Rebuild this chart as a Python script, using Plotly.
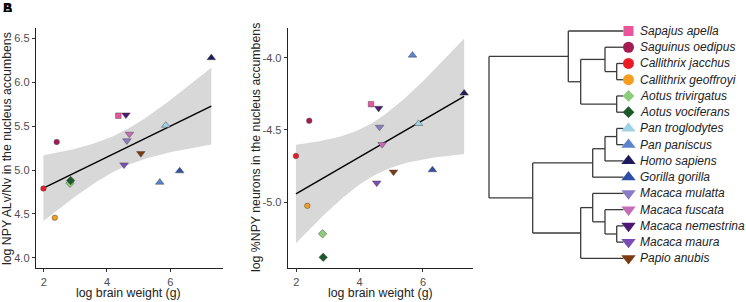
import numpy as np
import plotly.graph_objects as go

# ---------------- data ----------------
species = ["Sapajus apella", "Saguinus oedipus", "Callithrix jacchus", "Callithrix geoffroyi",
           "Aotus trivirgatus", "Aotus vociferans", "Pan troglodytes", "Pan paniscus",
           "Homo sapiens", "Gorilla gorilla", "Macaca mulatta", "Macaca fuscata",
           "Macaca nemestrina", "Macaca maura", "Papio anubis"]
log_brain_weight = [4.36, 2.41, 1.99, 2.35, 2.83, 2.85, 5.86, 5.67, 7.30, 6.30, 4.63, 4.71, 4.60, 4.54, 5.07]
log_npy_alv_nv = [5.62, 5.32, 4.79, 4.456, 4.85, 4.88, 5.51, 4.86, 6.28, 4.99, 5.335, 5.41, 5.63, 5.06, 5.19]
log_pct_npy = [-4.321, -4.436, -4.680, -5.026, -5.22, -5.383, -4.456, -3.982, -4.245, -4.777,
               -4.48, -4.60, -4.349, -4.867, -4.791]
colors = ["#e9559b", "#a51c52", "#ed1c24", "#f59e1f", "#8ccc7a", "#1d5a2a", "#a0d2e6", "#5b84cc",
          "#1f1b5c", "#2f4fa6", "#8b7bc4", "#c56db4", "#4b1a72", "#7a4db3", "#7b3b13"]
symbols = ["square", "circle", "circle", "circle", "diamond", "diamond", "triangle-up", "triangle-up",
           "triangle-up", "triangle-up", "triangle-down", "triangle-down", "triangle-down",
           "triangle-down", "triangle-down"]

x_ticks = [2, 4, 6]
x_ticklabels = ["2", "4", "6"]
y1_ticks = [4.0, 4.5, 5.0, 5.5, 6.0, 6.5]
y1_ticklabels = ["4.0", "4.5", "5.0", "5.5", "6.0", "6.5"]
y2_ticks = [-5.0, -4.5, -4.0]
y2_ticklabels = ["-5.0", "-4.5", "-4.0"]

# cladogram: (depth, children) ; ints are tip indices (order of species)
tree = (0.0, [(79.3, [0, (91.7, [(116.0, [1, (127.7, [2, 3])]), (127.7, [4, 5])])]),
              (43.7, [(103.7, [(116.0, [(127.7, [6, 7]), 8]), 9]),
                      (91.7, [(103.7, [10, (116.0, [11, (127.7, [12, 13])])]), 14])])])
tip_depth = 134.5
T_95_DF13 = 2.1604

W, H = 746, 302
FONT = "Liberation Sans, Arial, Helvetica, sans-serif"

fig = go.Figure()


def add_panel(yvals, xa, ya):
    x = np.array(log_brain_weight)
    y = np.array(yvals)
    n = len(x)
    b, a = np.polyfit(x, y, 1)
    resid = y - (a + b * x)
    s = np.sqrt(np.sum(resid ** 2) / (n - 2))
    sxx = np.sum((x - x.mean()) ** 2)
    gx = np.linspace(x.min(), x.max(), 80)
    gy = a + b * gx
    se = s * np.sqrt(1.0 / n + (gx - x.mean()) ** 2 / sxx)
    hi = gy + T_95_DF13 * se
    lo = gy - T_95_DF13 * se
    fig.add_trace(go.Scatter(x=np.concatenate([gx, gx[::-1]]), y=np.concatenate([hi, lo[::-1]]),
                             fill="toself", fillcolor="rgba(153,153,153,0.38)", mode="lines",
                             line=dict(width=0), hoverinfo="skip", showlegend=False,
                             xaxis=xa, yaxis=ya))
    fig.add_trace(go.Scatter(x=gx, y=gy, mode="lines", line=dict(color="black", width=1.4),
                             showlegend=False, xaxis=xa, yaxis=ya))
    sizes = [5.5 if s_ in ("circle", "square") else (6.5 if s_ == "diamond" else 7.5) for s_ in symbols]
    fig.add_trace(go.Scatter(x=x, y=y, mode="markers", showlegend=False, xaxis=xa, yaxis=ya,
                             marker=dict(color=colors, symbol=symbols, size=sizes, opacity=1,
                                         line=dict(color="rgba(70,70,70,0.8)", width=0.6))))


add_panel(log_npy_alv_nv, "x", "y")
add_panel(log_pct_npy, "x2", "y2")

# ---------------- tree ----------------
seg_x, seg_y = [], []


def walk(node):
    if isinstance(node, int):
        return float(node), tip_depth
    depth, children = node
    ys = []
    for ch in children:
        cy, cd = walk(ch)
        ys.append(cy)
        seg_x.extend([depth, cd, None])
        seg_y.extend([cy, cy, None])
    seg_x.extend([depth, depth, None])
    seg_y.extend([min(ys), max(ys), None])
    return (min(ys) + max(ys)) / 2.0, depth


walk(tree)
fig.add_trace(go.Scatter(x=seg_x, y=seg_y, mode="lines", line=dict(color="#3a3a3a", width=1.3),
                         showlegend=False, xaxis="x3", yaxis="y3"))
tip_idx = list(range(len(species)))
tree_sizes = [10 if s_ == "square" else (11 if s_ == "circle" else (9 if s_ == "diamond" else 12.5))
              for s_ in symbols]
fig.add_trace(go.Scatter(x=[tip_depth + 5] * len(species), y=tip_idx, mode="markers", showlegend=False,
                         xaxis="x3", yaxis="y3",
                         marker=dict(color=colors, symbol=symbols, size=tree_sizes, opacity=1,
                                     line=dict(width=0))))
for i, sp in enumerate(species):
    fig.add_annotation(x=tip_depth + 14, y=i, xref="x3", yref="y3", text="<i>" + sp + "</i>",
                       showarrow=False, xanchor="left", yanchor="middle",
                       font=dict(family=FONT, size=12, color="#222"))

axis_common = dict(showgrid=False, zeroline=False, showline=True, linecolor="#222", linewidth=1,
                   ticks="outside", ticklen=3, tickcolor="#333", tickwidth=1,
                   tickfont=dict(family=FONT, size=11, color="#4d4d4d"))

y_dom = [33.7 / H, 274 / H]
fig.update_layout(
    width=W, height=H, margin=dict(l=0, r=0, t=0, b=0),
    paper_bgcolor="white", plot_bgcolor="white", showlegend=False,
    font=dict(family=FONT),
    xaxis=dict(domain=[35.7 / W, 222.7 / W], range=[1.746, 7.66], tickvals=x_ticks,
               ticktext=x_ticklabels, anchor="y", **axis_common),
    yaxis=dict(domain=y_dom, range=[3.88, 6.62], tickvals=y1_ticks, ticktext=y1_ticklabels,
               anchor="x", **axis_common),
    xaxis2=dict(domain=[287.7 / W, 472.7 / W], range=[1.73, 7.57], tickvals=x_ticks,
                ticktext=x_ticklabels, anchor="y2", **axis_common),
    yaxis2=dict(domain=y_dom, range=[-5.459, -3.793], tickvals=y2_ticks, ticktext=y2_ticklabels,
                anchor="x2", **axis_common),
    xaxis3=dict(domain=[480 / W, 1.0], range=[-9, 257], visible=False, anchor="y3"),
    yaxis3=dict(domain=[0, 1], range=[(H - 31) / 16.24, -31 / 16.24], visible=False, anchor="x3"),
)

title_font = dict(family=FONT, size=12.3, color="#222")
fig.add_annotation(x=128.5 / W, y=(H - 293) / H, xref="paper", yref="paper", text="log brain weight (g)",
                   showarrow=False, xanchor="center", yanchor="middle", font=title_font)
fig.add_annotation(x=380 / W, y=(H - 293) / H, xref="paper", yref="paper", text="log brain weight (g)",
                   showarrow=False, xanchor="center", yanchor="middle", font=title_font)
fig.add_annotation(x=7 / W, y=(H - 149) / H, xref="paper", yref="paper",
                   text="log NPY ALv/Nv in the nucleus accumbens", textangle=-90,
                   showarrow=False, xanchor="center", yanchor="middle", font=title_font)
fig.add_annotation(x=256 / W, y=(H - 148) / H, xref="paper", yref="paper",
                   text="log %NPY neurons in the nucleus accumbens", textangle=-90,
                   showarrow=False, xanchor="center", yanchor="middle", font=title_font)
for letter in ["A", "B"]:
    fig.add_annotation(x=1 / W, y=1.0 + 2 / H, xref="paper", yref="paper", text="<b>" + letter + "</b>",
                       showarrow=False, xanchor="left", yanchor="top",
                       font=dict(family=FONT, size=13, color="black"))

fig.write_html("out.html", config={"displayModeBar": False},
               post_script="document.body.style.margin='0';document.body.style.padding='0';"
                           "document.documentElement.style.overflow='hidden';")
